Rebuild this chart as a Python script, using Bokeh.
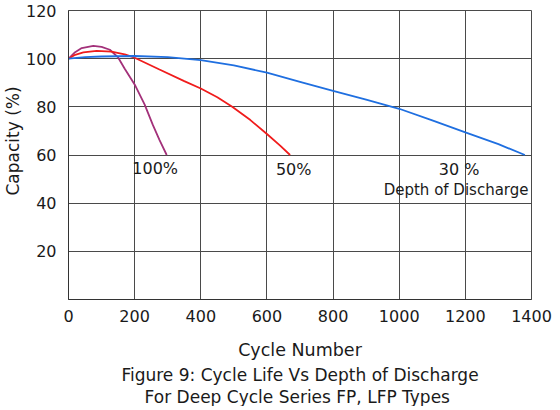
from bokeh.plotting import figure
from bokeh.models import Label, Title, FixedTicker, Range1d
from bokeh.embed import file_html
from bokeh.resources import INLINE

# ---- data ----
cycles_100 = [0, 20, 40, 75, 100, 125, 150, 170, 200, 230, 255, 275, 297]
cap_100 = [100, 102.7, 104.4, 105.3, 104.9, 103.7, 100.5, 95.8, 89.3, 81.0, 72.5, 66.3, 60.0]

cycles_50 = [0, 20, 45, 85, 130, 170, 200, 275, 350, 400, 450, 495, 550, 600, 640, 670]
cap_50 = [100, 101.6, 102.6, 103.2, 102.9, 101.8, 100.4, 95.5, 90.7, 87.6, 84.0, 80.0, 74.5, 68.7, 63.9, 60.0]

cycles_30 = [0, 50, 100, 200, 300, 400, 500, 600, 700, 800, 900, 1000, 1100, 1200, 1300, 1380]
cap_30 = [100, 100.6, 100.9, 101.1, 100.6, 99.4, 97.2, 94.2, 90.4, 86.6, 83.0, 79.2, 74.4, 69.4, 64.5, 60.0]

x_ticks = [0, 200, 400, 600, 800, 1000, 1200, 1400]
y_ticks = [20, 40, 60, 80, 100, 120]
series_labels = ["100%", "50%", "30 %", "Depth of Discharge"]
title_lines = ["Figure 9: Cycle Life Vs Depth of Discharge", "For Deep Cycle Series FP,  LFP Types"]

FONT = "DejaVu Sans"
GRID = "#4a4a4a"
TXT = "#1a1a1a"

p = figure(frame_width=463, frame_height=289, output_backend="svg", toolbar_location=None,
           x_range=Range1d(0, 1400), y_range=Range1d(0, 120),
           min_border_left=58, min_border_right=22, min_border_top=10, min_border_bottom=0,
           background_fill_color="white", border_fill_color="white")

p.outline_line_color = GRID
p.outline_line_width = 1

p.xaxis.ticker = FixedTicker(ticks=x_ticks)
p.yaxis.ticker = FixedTicker(ticks=y_ticks)
p.xgrid.ticker = FixedTicker(ticks=x_ticks)
p.ygrid.ticker = FixedTicker(ticks=y_ticks)
for g in (p.xgrid, p.ygrid):
    g.grid_line_color = GRID
    g.grid_line_width = 1

for ax in (p.xaxis, p.yaxis):
    ax.major_tick_line_color = None
    ax.minor_tick_line_color = None
    ax.axis_line_color = "#333333"
    ax.axis_line_width = 1
    ax.major_label_text_font = FONT
    ax.major_label_text_font_size = "16px"
    ax.major_label_text_color = TXT
    ax.axis_label_text_font = FONT
    ax.axis_label_text_font_style = "normal"
    ax.axis_label_text_color = TXT

p.xaxis.major_label_standoff = 4
p.yaxis.major_label_standoff = 6
p.xaxis.axis_label = "Cycle Number"
p.xaxis.axis_label_text_font_size = "17.5px"
p.xaxis.axis_label_standoff = 15

p.add_layout(Title(text="Capacity  (%)", align="left", offset=104, text_font=FONT,
                   text_font_size="17px", text_font_style="normal", text_color=TXT,
                   standoff=0), "left")

p.line(cycles_100, cap_100, line_color="#a3317a", line_width=1.8)
p.line(cycles_50, cap_50, line_color="#f01c1c", line_width=1.8)
p.line(cycles_30, cap_30, line_color="#1f6fe0", line_width=1.8)

lab_style = dict(text_font=FONT, text_color=TXT, text_align="center", text_baseline="middle")
p.add_layout(Label(x=262, y=54.6, text=series_labels[0], text_font_size="16px", **lab_style))
p.add_layout(Label(x=681, y=54.1, text=series_labels[1], text_font_size="16px", **lab_style))
p.add_layout(Label(x=1181, y=53.8, text=series_labels[2], text_font_size="16px", **lab_style))
p.add_layout(Label(x=1172, y=45.5, text=series_labels[3], text_font_size="15px", **lab_style))

for t in title_lines:
    p.add_layout(Title(text=t, align="center", text_font=FONT, text_font_size="17px",
                       text_font_style="normal", text_color=TXT, standoff=0, offset=0), "below")

open("out.html", "w").write(file_html(p, INLINE))
